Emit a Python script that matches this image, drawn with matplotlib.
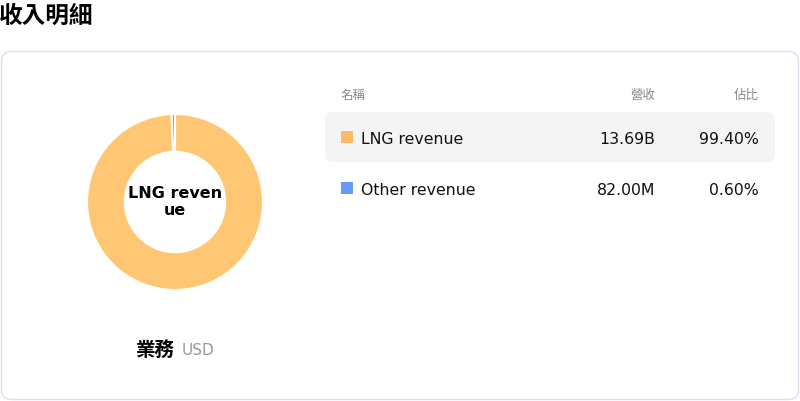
import matplotlib
matplotlib.use("Agg")
from matplotlib import pyplot as plt
from matplotlib import patches

plt.rcParams['font.family'] = ['DejaVu Sans', 'Noto Sans CJK TC']

# data
names = ['LNG revenue', 'Other revenue']
revenue_labels = ['13.69B', '82.00M']
share_labels = ['99.40%', '0.60%']
shares = [99.40, 0.60]
colors = ['#ffc773', '#6699ff']
legend_colors = ['#fdba66', '#6699ff']

W, H = 800, 402
fig = plt.figure(figsize=(W / 100, H / 100), dpi=100)

# full-figure canvas in pixel coords
bg = fig.add_axes([0, 0, 1, 1])
bg.set_xlim(0, W)
bg.set_ylim(H, 0)
bg.axis('off')

bg.text(-1, 16, '收入明細', fontsize=17, fontweight='bold', va='center', ha='left')

card = patches.FancyBboxPatch((1.5, 52.5), 797, 348, boxstyle='round,pad=0,rounding_size=10',
                              facecolor='white', edgecolor='#e0def0', linewidth=1)
bg.add_patch(card)

# table header
bg.text(341, 95, '名稱', fontsize=9, color='#888888', va='center', ha='left')
bg.text(655, 95, '營收', fontsize=9, color='#888888', va='center', ha='right')
bg.text(759, 95, '佔比', fontsize=9, color='#888888', va='center', ha='right')

row_y = [140, 191]
hl = patches.FancyBboxPatch((325, 113), 450, 50, boxstyle='round,pad=0,rounding_size=8',
                            facecolor='#f4f4f4', edgecolor='none')
bg.add_patch(hl)
for i, name in enumerate(names):
    y = row_y[i]
    bg.add_patch(patches.Rectangle((341, y - 8), 12, 12, facecolor=legend_colors[i], edgecolor='none'))
    bg.text(361, y, name, fontsize=11.3, va='center', ha='left', color='#111111')
    bg.text(655, y, revenue_labels[i], fontsize=11.3, va='center', ha='right', color='#111111')
    bg.text(759, y, share_labels[i], fontsize=11.3, va='center', ha='right', color='#111111')

# caption under donut
bg.text(155, 351, '業務', fontsize=14, fontweight='bold', va='center', ha='center')
bg.text(182, 351, 'USD', fontsize=11, color='#999999', va='center', ha='left')

# donut
cx, cy, r = 175, 203, 88
pie_ax = fig.add_axes([(cx - r) / W, (H - cy - r) / H, 2 * r / W, 2 * r / H])
pie_ax.pie(shares, colors=colors, startangle=90, counterclock=False,
           wedgeprops=dict(width=0.43, edgecolor='white', linewidth=1.5))
pie_ax.set_xlim(-1, 1)
pie_ax.set_ylim(-1, 1)
pie_ax.set_aspect('equal')
pie_ax.text(0, 0.11, 'LNG reven', fontsize=11.5, fontweight='bold', ha='center', va='center')
pie_ax.text(0, -0.08, 'ue', fontsize=11.5, fontweight='bold', ha='center', va='center')

fig.savefig('out.png', dpi=100)
